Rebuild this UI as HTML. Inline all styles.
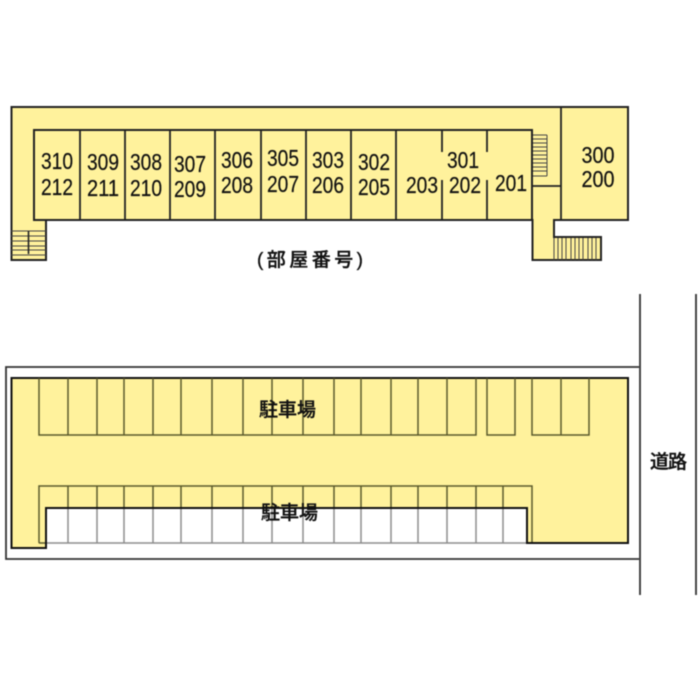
<!DOCTYPE html>
<html lang="ja"><head><meta charset="utf-8"><style>
html,body{margin:0;padding:0;background:#fff;width:700px;height:700px;overflow:hidden}
svg{display:block;filter:blur(0.4px)}
.n{font-family:"Liberation Sans",sans-serif;font-size:23px;fill:#111;text-anchor:middle;stroke:#111;stroke-width:.2px}
.j{font-family:"Liberation Sans","Noto Sans CJK JP",sans-serif;font-size:19px;fill:#111;font-weight:500;stroke:#111;stroke-width:.35px}
</style></head><body>
<svg width="700" height="700" viewBox="0 0 700 700" xmlns="http://www.w3.org/2000/svg">
<!-- building -->
<path d="M11.500 107H628V220H554V237H601V260H532.500V220H46V260H11.500Z" fill="#fff29c" stroke="#222" stroke-width="2"/>
<path d="M34 130H532V220H34Z" fill="#fff29c" stroke="#222" stroke-width="2"/>
<g stroke="#222" stroke-width="1.800" fill="none">
<path d="M80 130V220M125 130V220M170 130V220M215 130V220M261 130V220M306 130V220M351 130V220M396 130V220"/>
<path d="M442 130V152M487 130V152M442 180V220M487 180V220"/>
<path d="M561 107V220M532 186H561"/>
</g>
<!-- stairs -->
<g stroke="#444" stroke-width="1" fill="none">
<path d="M11 231H46M11 236H46M11 241H46M11 246H46M11 250H46M11 255H46"/>
<path d="M28.500 231V254" stroke="#222" stroke-width="1.600"/>
<path d="M533 135H547M533 139H547M533 143H547M533 147H547M533 151H547M533 155H547M533 159H547M533 163H547M533 167H547M533 171H547M533 176H547M547 135V176"/>
<path d="M554 238V260M558 238V260M562 238V260M566 238V260M571 238V260M575 238V260M579 238V260M583 238V260M588 238V260M592 238V260M596 238V260"/>
</g>
<!-- lot and road -->
<path d="M639 367H6V559H639" fill="none" stroke="#333" stroke-width="1.800"/>
<path d="M640 294V595M696 294V595" fill="none" stroke="#333" stroke-width="1.800"/>
<path d="M11.500 378H628V543H527V508H46V548H11.500Z" fill="#fff29c" stroke="#111" stroke-width="2"/>
<!-- stalls -->
<g fill="none" stroke="#5b5a2c" stroke-width="1.500">
<path d="M39 378V435H476V378"/>
<path d="M68 378V435M97 378V435M124 378V435M153 378V435M181 378V435M212 378V435M243 378V435M272 378V435M303 378V435M334 378V435M361 378V435M391 378V435M418 378V435M447 378V435"/>
<path d="M487 378V435H515V378"/>
<path d="M532 378V435H589V378M561 378V435"/>
<path d="M46 543H40Q39 543 39 542V486H532V543"/>
<path d="M68 486V508M97 486V508M124 486V508M153 486V508M181 486V508M212 486V508M243 486V508M272 486V508M303 486V508M334 486V508M361 486V508M391 486V508M418 486V508M447 486V508M476 486V508M503 486V508"/>
</g>
<g fill="none" stroke="#8d8d8d" stroke-width="1.500">
<path d="M46 543H527"/>
<path d="M68 508V543M97 508V543M124 508V543M153 508V543M181 508V543M212 508V543M243 508V543M272 508V543M303 508V543M334 508V543M361 508V543M391 508V543M418 508V543M447 508V543M476 508V543M503 508V543"/>
</g>
<path d="M46 548V508H527V543H628" fill="none" stroke="#111" stroke-width="2"/>
<!-- room numbers -->
<g>
<text class="n" x="57" y="169" textLength="32" lengthAdjust="spacingAndGlyphs">310</text><text class="n" x="57" y="195" textLength="32" lengthAdjust="spacingAndGlyphs">212</text>
<text class="n" x="103" y="170" textLength="32" lengthAdjust="spacingAndGlyphs">309</text><text class="n" x="103" y="196" textLength="32" lengthAdjust="spacingAndGlyphs">211</text>
<text class="n" x="146" y="170" textLength="32" lengthAdjust="spacingAndGlyphs">308</text><text class="n" x="146" y="196" textLength="32" lengthAdjust="spacingAndGlyphs">210</text>
<text class="n" x="190" y="172" textLength="32" lengthAdjust="spacingAndGlyphs">307</text><text class="n" x="190" y="197" textLength="32" lengthAdjust="spacingAndGlyphs">209</text>
<text class="n" x="237" y="168" textLength="32" lengthAdjust="spacingAndGlyphs">306</text><text class="n" x="237" y="193" textLength="32" lengthAdjust="spacingAndGlyphs">208</text>
<text class="n" x="283" y="166" textLength="32" lengthAdjust="spacingAndGlyphs">305</text><text class="n" x="283" y="192" textLength="32" lengthAdjust="spacingAndGlyphs">207</text>
<text class="n" x="328" y="168" textLength="32" lengthAdjust="spacingAndGlyphs">303</text><text class="n" x="328" y="193" textLength="32" lengthAdjust="spacingAndGlyphs">206</text>
<text class="n" x="374" y="170" textLength="32" lengthAdjust="spacingAndGlyphs">302</text><text class="n" x="374" y="195" textLength="32" lengthAdjust="spacingAndGlyphs">205</text>
<text class="n" x="422" y="193" textLength="32" lengthAdjust="spacingAndGlyphs">203</text>
<text class="n" x="463" y="168" textLength="32" lengthAdjust="spacingAndGlyphs">301</text><text class="n" x="465" y="193" textLength="32" lengthAdjust="spacingAndGlyphs">202</text>
<text class="n" x="511" y="191" textLength="32" lengthAdjust="spacingAndGlyphs">201</text>
<text class="n" x="598" y="163" textLength="33" lengthAdjust="spacingAndGlyphs">300</text><text class="n" x="598" y="187" textLength="33" lengthAdjust="spacingAndGlyphs">200</text>
</g>
<text class="j" x="257" y="266" textLength="106">(部屋番号)</text>
<text class="j" x="259" y="416" textLength="57">駐車場</text>
<text class="j" x="261" y="519" textLength="57">駐車場</text>
<text class="j" x="650" y="468" textLength="37">道路</text>
</svg>
</body></html>
